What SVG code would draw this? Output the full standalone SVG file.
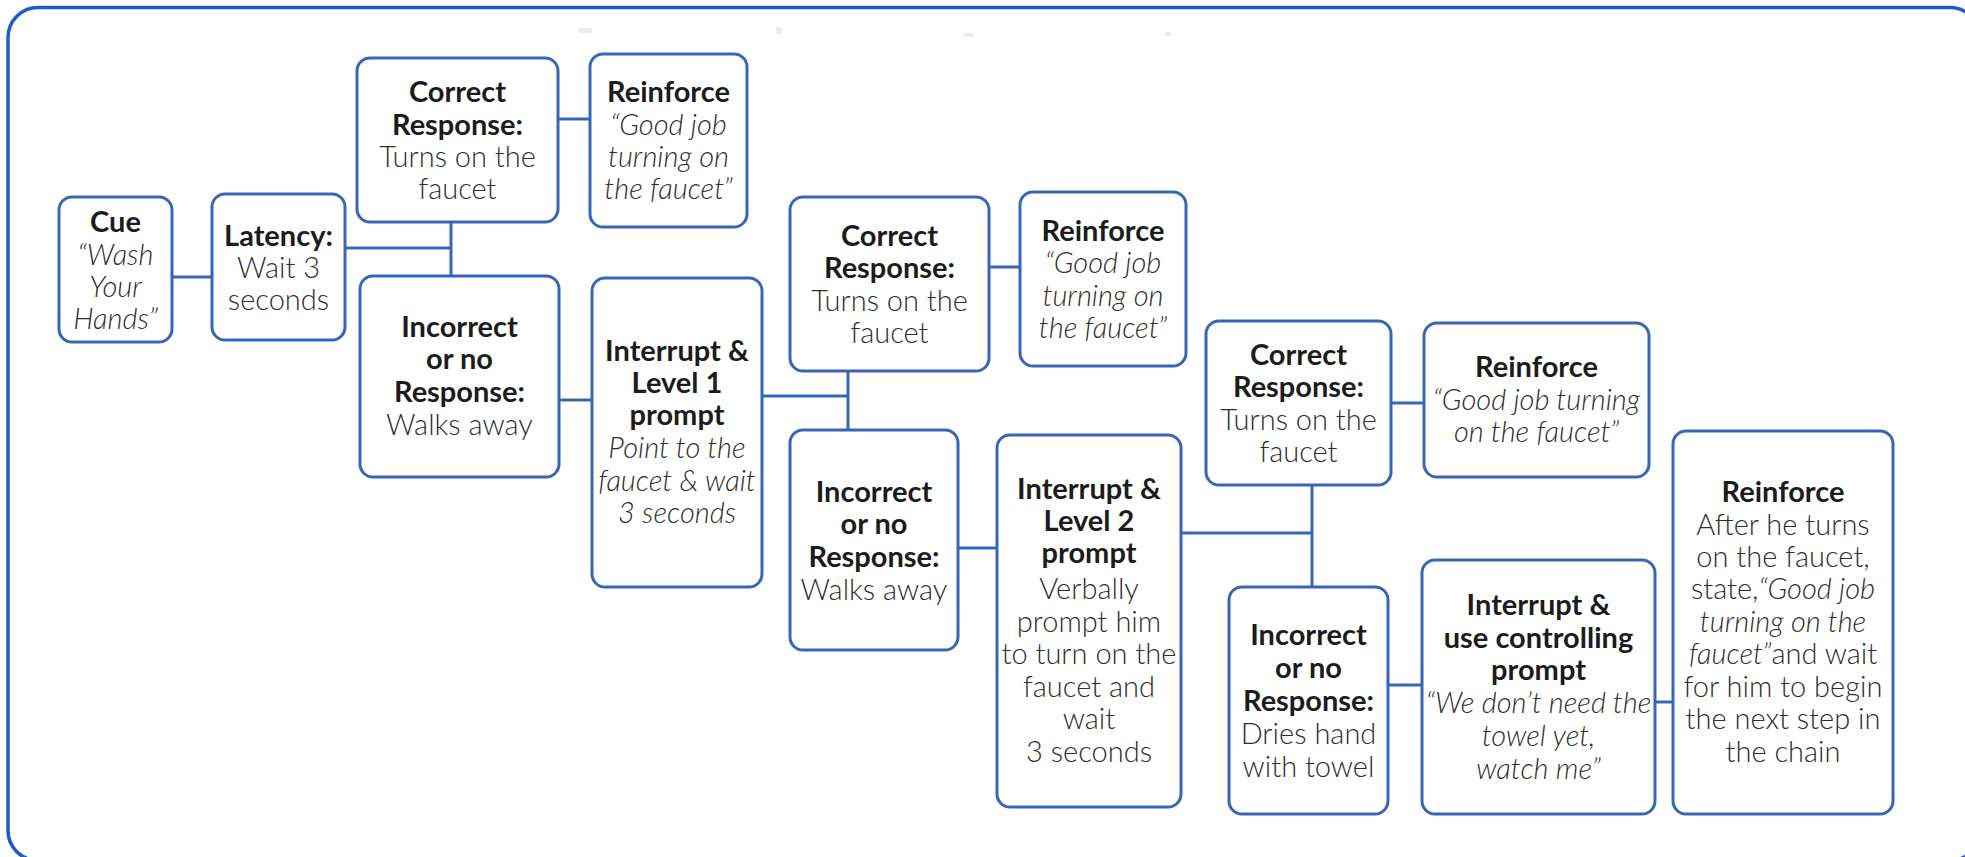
<svg xmlns="http://www.w3.org/2000/svg" width="1965" height="857" viewBox="0 0 1965 857">
<style>
.frame{fill:none;stroke:#1d5bcc;stroke-width:3.5}
.node rect{fill:#ffffff;stroke:#3866b6;stroke-width:3}
.conn line{stroke:#3866b6;stroke-width:3}
text{font-family:Lato,"Open Sans","Liberation Sans",sans-serif;font-size:29px;text-anchor:middle}
.b{font-weight:700;fill:#1c1c1c}
.l{font-weight:300;fill:#2e2e2e}
.i{font-weight:300;font-style:italic;fill:#2e2e2e}
.smudge{fill:#ececec}
</style>
<rect class="frame" x="8" y="7.5" width="1972" height="853" rx="30"/>
<rect class="smudge" x="578" y="28" width="14" height="5"/>
<rect class="smudge" x="776" y="27" width="6" height="7"/>
<rect class="smudge" x="964" y="33" width="10" height="4"/>
<rect class="smudge" x="1165" y="32" width="6" height="4"/>
<g class="conn">
<line x1="172" y1="277" x2="212" y2="277"/>
<line x1="345" y1="248" x2="451" y2="248"/>
<line x1="451" y1="222" x2="451" y2="276"/>
<line x1="558" y1="119" x2="590" y2="119"/>
<line x1="559" y1="400" x2="592" y2="400"/>
<line x1="762" y1="396" x2="848" y2="396"/>
<line x1="848" y1="371" x2="848" y2="430"/>
<line x1="989" y1="267" x2="1020" y2="267"/>
<line x1="958" y1="548" x2="997" y2="548"/>
<line x1="1181" y1="533" x2="1312" y2="533"/>
<line x1="1312" y1="485" x2="1312" y2="587"/>
<line x1="1391" y1="403" x2="1424" y2="403"/>
<line x1="1388" y1="685" x2="1422" y2="685"/>
<line x1="1655" y1="702" x2="1673" y2="702"/>
</g>
<g id="cue" class="node">
<rect x="59" y="197" width="113" height="145" rx="13"/>
<text x="115.5" y="232" class="b">Cue</text>
<text x="115.5" y="265" class="i">“Wash</text>
<text x="115.5" y="297" class="i">Your</text>
<text x="115.5" y="329" class="i">Hands”</text>
</g>
<g id="latency" class="node">
<rect x="212" y="194" width="133" height="146" rx="13"/>
<text x="278.5" y="246" class="b">Latency:</text>
<text x="278.5" y="278" class="l">Wait 3</text>
<text x="278.5" y="310" class="l">seconds</text>
</g>
<g id="correct1" class="node">
<rect x="357" y="58" width="201" height="164" rx="13"/>
<text x="457.5" y="102" class="b">Correct</text>
<text x="457.5" y="135" class="b">Response:</text>
<text x="457.5" y="167" class="l">Turns on the</text>
<text x="457.5" y="199" class="l">faucet</text>
</g>
<g id="reinforce1" class="node">
<rect x="590" y="54" width="157" height="173" rx="13"/>
<text x="668.5" y="102" class="b">Reinforce</text>
<text x="668.5" y="135" class="i">“Good job</text>
<text x="668.5" y="167" class="i">turning on</text>
<text x="668.5" y="199" class="i">the faucet”</text>
</g>
<g id="incorrect1" class="node">
<rect x="360" y="276" width="199" height="201" rx="13"/>
<text x="459.5" y="337" class="b">Incorrect</text>
<text x="459.5" y="369" class="b">or no</text>
<text x="459.5" y="402" class="b">Response:</text>
<text x="459.5" y="435" class="l">Walks away</text>
</g>
<g id="prompt1" class="node">
<rect x="592" y="278" width="170" height="309" rx="13"/>
<text x="677" y="361" class="b">Interrupt &amp;</text>
<text x="677" y="393" class="b">Level 1</text>
<text x="677" y="425" class="b">prompt</text>
<text x="677" y="458" class="i">Point to the</text>
<text x="677" y="491" class="i">faucet &amp; wait</text>
<text x="677" y="523" class="i">3 seconds</text>
</g>
<g id="correct2" class="node">
<rect x="790" y="197" width="199" height="174" rx="13"/>
<text x="889.5" y="246" class="b">Correct</text>
<text x="889.5" y="278" class="b">Response:</text>
<text x="889.5" y="311" class="l">Turns on the</text>
<text x="889.5" y="343" class="l">faucet</text>
</g>
<g id="reinforce2" class="node">
<rect x="1020" y="192" width="166" height="174" rx="13"/>
<text x="1103" y="241" class="b">Reinforce</text>
<text x="1103" y="273" class="i">“Good job</text>
<text x="1103" y="306" class="i">turning on</text>
<text x="1103" y="338" class="i">the faucet”</text>
</g>
<g id="incorrect2" class="node">
<rect x="790" y="430" width="168" height="220" rx="13"/>
<text x="874" y="502" class="b">Incorrect</text>
<text x="874" y="534" class="b">or no</text>
<text x="874" y="567" class="b">Response:</text>
<text x="874" y="600" class="l">Walks away</text>
</g>
<g id="prompt2" class="node">
<rect x="997" y="435" width="184" height="372" rx="13"/>
<text x="1089" y="499" class="b">Interrupt &amp;</text>
<text x="1089" y="531" class="b">Level 2</text>
<text x="1089" y="563" class="b">prompt</text>
<text x="1089" y="599" class="l">Verbally</text>
<text x="1089" y="632" class="l">prompt him</text>
<text x="1089" y="664" class="l">to turn on the</text>
<text x="1089" y="697" class="l">faucet and</text>
<text x="1089" y="729" class="l">wait</text>
<text x="1089" y="762" class="l">3 seconds</text>
</g>
<g id="correct3" class="node">
<rect x="1206" y="321" width="185" height="164" rx="13"/>
<text x="1298.5" y="365" class="b">Correct</text>
<text x="1298.5" y="397" class="b">Response:</text>
<text x="1298.5" y="430" class="l">Turns on the</text>
<text x="1298.5" y="462" class="l">faucet</text>
</g>
<g id="reinforce3" class="node">
<rect x="1424" y="323" width="225" height="154" rx="13"/>
<text x="1536.5" y="377" class="b">Reinforce</text>
<text x="1536.5" y="410" class="i">“Good job turning</text>
<text x="1536.5" y="442" class="i">on the faucet”</text>
</g>
<g id="incorrect3" class="node">
<rect x="1229" y="587" width="159" height="227" rx="13"/>
<text x="1308.5" y="645" class="b">Incorrect</text>
<text x="1308.5" y="678" class="b">or no</text>
<text x="1308.5" y="711" class="b">Response:</text>
<text x="1308.5" y="744" class="l">Dries hand</text>
<text x="1308.5" y="777" class="l">with towel</text>
</g>
<g id="controlling" class="node">
<rect x="1422" y="560" width="233" height="254" rx="13"/>
<text x="1538.5" y="615" class="b">Interrupt &amp;</text>
<text x="1538.5" y="648" class="b">use controlling</text>
<text x="1538.5" y="680" class="b">prompt</text>
<text x="1538.5" y="713" class="i">“We don’t need the</text>
<text x="1538.5" y="746" class="i">towel yet,</text>
<text x="1538.5" y="779" class="i">watch me”</text>
</g>
<g id="reinforce4" class="node">
<rect x="1673" y="431" width="220" height="383" rx="13"/>
<text x="1783" y="502" class="b">Reinforce</text>
<text x="1783" y="535" class="l">After he turns</text>
<text x="1783" y="567" class="l">on the faucet,</text>
<text x="1783" y="599" class="l">state,<tspan class="i">“Good job</tspan></text>
<text x="1783" y="632" class="i">turning on the</text>
<text x="1783" y="664" class="l"><tspan class="i">faucet”</tspan>and wait</text>
<text x="1783" y="697" class="l">for him to begin</text>
<text x="1783" y="729" class="l">the next step in</text>
<text x="1783" y="762" class="l">the chain</text>
</g>
</svg>
